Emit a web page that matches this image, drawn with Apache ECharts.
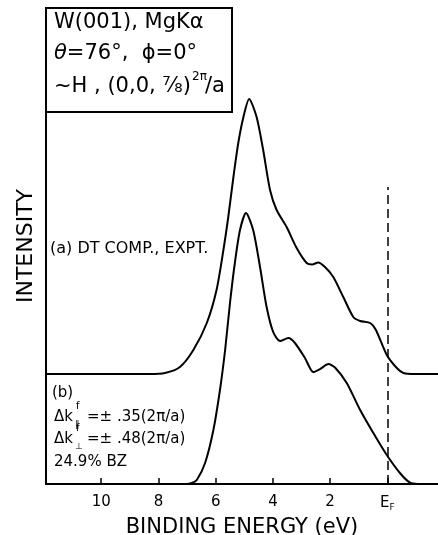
<!DOCTYPE html>
<html>
<head>
<meta charset="utf-8">
<script src="https://cdn.jsdelivr.net/npm/echarts@6/dist/echarts.min.js"></script>
<style>
  html, body { margin: 0; padding: 0; background: #fff; }
  #chart { width: 438px; height: 535px; }
</style>
</head>
<body>
<div id="chart"></div>
<script>
// curve (a): DT comp. vs expt, offset baseline
const energyA = [11.93, 8.30, 7.77, 7.25, 6.78, 6.31, 5.97, 5.73, 5.56, 5.38, 5.21, 5.03, 4.83, 4.57, 4.34, 4.10, 3.87, 3.52, 3.17, 2.82, 2.63, 2.42, 2.18, 1.89, 1.54, 1.19, 0.95, 0.60, 0.40, 0.02, -0.33, -0.56, -0.97, -1.77];
const intensityA = [110, 110, 111, 117, 134, 161, 194, 234, 267, 307, 341, 367, 385, 367, 334, 294, 274, 257, 236, 221, 219.5, 221.5, 217, 207, 187, 167, 163, 161, 154, 129, 116, 111, 110, 110];

// curve (b)
const energyB = [11.93, 7.04, 6.83, 6.66, 6.37, 6.08, 5.85, 5.67, 5.50, 5.33, 5.15, 4.94, 4.69, 4.45, 4.22, 3.99, 3.75, 3.46, 3.23, 2.88, 2.59, 2.35, 2.06, 1.83, 1.42, 0.95, 0.49, 0.02, -0.44, -0.79, -1.07, -1.77];
const intensityB = [0, 0, 1, 4, 21, 54, 94, 134, 181, 221, 254, 271, 254, 217, 177, 152, 143, 146, 141, 126, 112, 115, 120, 116.5, 101, 74, 51, 29, 11, 1.3, 0, 0];

const tickValues = [10, 8, 6, 4, 2, 0];
const fermiTop = 297;

const FONT = 'DejaVu Sans';

const chart = echarts.init(document.getElementById('chart'));

const zip = (xs, ys) => xs.map((x, i) => [x, ys[i]]);

const option = {
  animation: false,
  backgroundColor: '#fff',
  grid: { left: 46, right: 0, top: 8, bottom: 51, outerBoundsMode: 'none', containLabel: false },
  xAxis: {
    type: 'value',
    inverse: true,
    min: -1.77,
    max: 11.93,
    name: 'BINDING ENERGY (eV)',
    nameLocation: 'middle',
    nameGap: 31,
    nameTextStyle: { color: '#000', fontFamily: FONT, fontSize: 21 },
    axisLine: { onZero: false, lineStyle: { color: '#000', width: 2 } },
    axisTick: { inside: true, length: 6, customValues: tickValues, lineStyle: { color: '#000', width: 1.5 } },
    axisLabel: {
      customValues: tickValues,
      color: '#000', fontFamily: FONT, fontSize: 15, margin: 11,
      formatter: v => (v === 0 ? 'E{s|F}' : String(v)),
      rich: { s: { fontSize: 9, verticalAlign: 'bottom', padding: [8, 0, 0, 0], fontFamily: FONT, color: '#000' } }
    },
    splitLine: { show: false }
  },
  yAxis: {
    type: 'value',
    min: 0,
    max: 476,
    name: 'INTENSITY',
    nameLocation: 'middle',
    nameGap: 9,
    nameRotate: 90,
    nameTextStyle: { color: '#000', fontFamily: FONT, fontSize: 22 },
    axisLine: { show: true, onZero: false, lineStyle: { color: '#000', width: 2 } },
    axisTick: { show: false },
    axisLabel: { show: false },
    splitLine: { show: false }
  },
  series: [
    {
      type: 'line',
      data: zip(energyA, intensityA),
      smooth: 0.25,
      symbol: 'none',
      lineStyle: { color: '#000', width: 2 }
    },
    {
      type: 'line',
      data: zip(energyB, intensityB),
      smooth: 0.25,
      symbol: 'none',
      lineStyle: { color: '#000', width: 2 },
      markLine: {
        silent: true,
        symbol: 'none',
        label: { show: false },
        lineStyle: { color: '#000', width: 1.5, type: [9, 5] },
        data: [[{ coord: [0, 0] }, { coord: [0, fermiTop] }]]
      }
    }
  ],
  graphic: [
    { type: 'rect', shape: { x: 46, y: 8, width: 186, height: 104 }, style: { fill: 'none', stroke: '#000', lineWidth: 2 } },
    { type: 'text', x: 54, y: 12, style: { text: 'W(001), MgKα', font: '21px ' + FONT, fill: '#000' } },
    { type: 'text', x: 54, y: 43, style: { text: '{i|θ}=76°,  ϕ=0°', font: '21px ' + FONT, fill: '#000', rich: { i: { fontStyle: 'italic', fontSize: 21, fontFamily: FONT } } } },
    { type: 'text', x: 54, y: 76, style: { text: '~H , (0,0, ⅞)', font: '21px ' + FONT, fill: '#000' } },
    { type: 'text', x: 192, y: 71, style: { text: '2π', font: '12px ' + FONT, fill: '#000' } },
    { type: 'text', x: 205, y: 76, style: { text: '/a', font: '21px ' + FONT, fill: '#000' } },

    { type: 'text', x: 50, y: 241, style: { text: '(a) DT COMP., EXPT.', font: '16px ' + FONT, fill: '#000' } },

    { type: 'text', x: 52, y: 386, style: { text: '(b)', font: '15px ' + FONT, fill: '#000' } },
    { type: 'text', x: 54, y: 410, style: { text: 'Δk', font: '15px ' + FONT, fill: '#000' } },
    { type: 'text', x: 76, y: 401, style: { text: 'f', font: '10px ' + FONT, fill: '#000' } },
    { type: 'text', x: 75, y: 420, style: { text: '∥', font: '9px ' + FONT, fill: '#000' } },
    { type: 'text', x: 87, y: 410, style: { text: '=± .35(2π/a)', font: '15px ' + FONT, fill: '#000' } },
    { type: 'text', x: 54, y: 432, style: { text: 'Δk', font: '15px ' + FONT, fill: '#000' } },
    { type: 'text', x: 76, y: 423, style: { text: 'f', font: '10px ' + FONT, fill: '#000' } },
    { type: 'text', x: 75, y: 442, style: { text: '⊥', font: '9px ' + FONT, fill: '#000' } },
    { type: 'text', x: 87, y: 432, style: { text: '=± .48(2π/a)', font: '15px ' + FONT, fill: '#000' } },
    { type: 'text', x: 54, y: 455, style: { text: '24.9% BZ', font: '15px ' + FONT, fill: '#000' } }
  ]
};

chart.setOption(option);
</script>
</body>
</html>
